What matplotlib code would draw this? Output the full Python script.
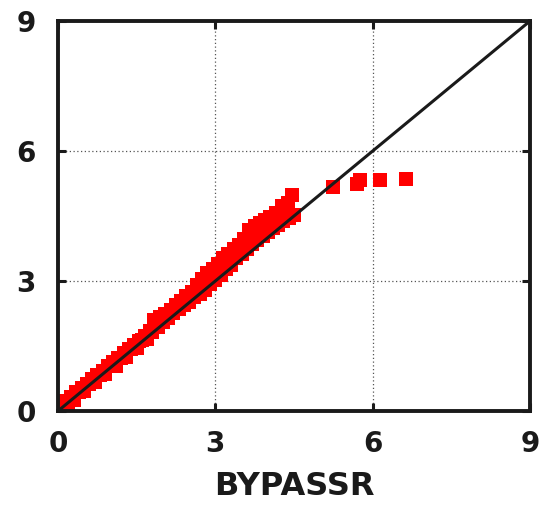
import matplotlib
matplotlib.use("Agg")
import matplotlib.pyplot as plt

# paired values: BYPASSR on x, compared estimate on y
# points lying close to the 1:1 line
near_x = [0.00, 0.10, 0.20, 0.30, 0.40, 0.50, 0.60, 0.70, 0.80, 0.90,
          1.00, 1.10, 1.20, 1.30, 1.40, 1.50, 1.60, 1.70, 1.80, 1.90,
          2.00, 2.10, 2.20, 2.30, 2.40, 2.50, 2.60, 2.70, 2.80, 2.90,
          3.00, 3.10, 3.20, 3.30, 3.40, 3.50, 3.60, 3.70, 3.80, 3.90,
          4.00, 4.10, 4.20, 4.30, 4.40, 4.50]
near_y = [0.00, 0.06, 0.17, 0.26, 0.43, 0.46, 0.63, 0.67, 0.83, 0.86,
          1.03, 1.05, 1.23, 1.25, 1.42, 1.46, 1.63, 1.66, 1.82, 1.93,
          2.06, 2.14, 2.27, 2.35, 2.45, 2.52, 2.62, 2.71, 2.80, 2.92,
          3.02, 3.14, 3.27, 3.38, 3.52, 3.62, 3.74, 3.85, 3.95, 4.05,
          4.14, 4.22, 4.30, 4.38, 4.45, 4.52]
# points sitting above the line
high_x = [0.05, 0.15, 0.25, 0.35, 0.45, 0.55, 0.65, 0.75, 0.85, 0.95,
          1.05, 1.15, 1.25, 1.35, 1.45, 1.55, 1.65, 1.75, 1.84, 1.95,
          2.05, 2.15, 2.25, 2.35, 2.45, 2.55, 2.65, 2.75, 2.85, 2.95,
          3.05, 3.15, 3.25, 3.35, 3.45, 3.55, 3.65, 3.75, 3.85, 3.95,
          4.05, 4.16, 4.27, 4.38, 4.47]
high_y = [0.12, 0.23, 0.33, 0.43, 0.53, 0.63, 0.73, 0.83, 0.93, 1.04,
          1.14, 1.23, 1.33, 1.43, 1.53, 1.62, 1.72, 1.85, 2.11, 2.16,
          2.24, 2.34, 2.44, 2.55, 2.65, 2.75, 2.90, 3.05, 3.18, 3.28,
          3.40, 3.52, 3.62, 3.74, 3.84, 3.96, 4.17, 4.27, 4.33, 4.40,
          4.48, 4.57, 4.73, 4.80, 4.99]
# largest values, levelling off
tail_x = [5.25, 5.70, 5.75, 6.14, 6.64]
tail_y = [5.17, 5.25, 5.32, 5.33, 5.36]

ticks = [0, 3, 6, 9]

plt.rcParams['font.family'] = ['DejaVu Sans']
fig = plt.figure(figsize=(5.49, 5.05), dpi=100)
ax = fig.add_axes([0.1056, 0.1861, 0.8598, 0.7723])

xs = near_x + high_x + tail_x
ys = near_y + high_y + tail_y
ax.plot(xs, ys, 's', color='#ff0000', markersize=10.5,
        markeredgewidth=0, zorder=2)
ax.plot([0, 9], [0, 9], color='#1a1a1a', linewidth=2.2, zorder=3)

ax.set_xlim(0, 9)
ax.set_ylim(0, 9)
ax.set_xticks(ticks)
ax.set_yticks(ticks)
ax.set_xticklabels([str(t) for t in ticks], fontsize=20, fontweight='bold')
ax.set_yticklabels([str(t) for t in ticks], fontsize=20, fontweight='bold')
ax.tick_params(direction='in', length=6, width=2.2, top=True, right=True,
               color='#1a1a1a', labelcolor='#1a1a1a')
ax.tick_params(axis='x', pad=14)
ax.tick_params(axis='y', pad=16)
ax.grid(True, color='#555555', linestyle=(0, (1, 2)), linewidth=0.9)
ax.set_axisbelow(True)
for s in ax.spines.values():
    s.set_linewidth(2.8)
    s.set_color('#1a1a1a')

ax.set_xlabel("BYPASSR", fontsize=23, fontweight='bold', color='#1a1a1a',
              labelpad=9)

fig.savefig("out.png", dpi=100)
